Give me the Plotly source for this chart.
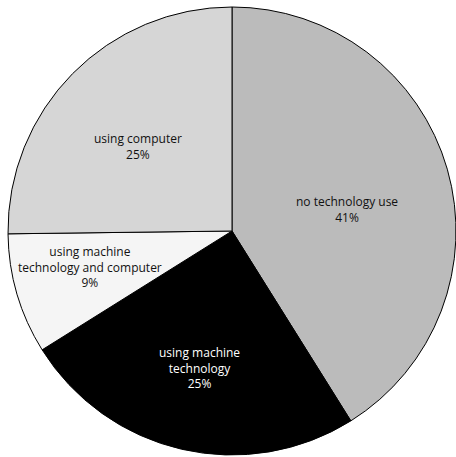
import plotly.graph_objects as go

categories = ["no technology use", "using machine technology",
              "using machine technology and computer", "using computer"]
display_labels = ["no technology use", "using machine<br>technology",
                  "using machine<br>technology and computer", "using computer"]
values = [41.1, 25.0, 8.7, 25.2]
colors = ["#bbbbbb", "#000000", "#f5f5f5", "#d6d6d6"]
text_colors = ["#111111", "#ffffff", "#111111", "#111111"]
# label anchor points (paper fraction) for each slice's text
label_x = [0.7556, 0.4275, 0.1830, 0.2891]
label_y = [0.5469, 0.1942, 0.4196, 0.6886]

FONT = "Open Sans, Noto Sans, sans-serif"
total = sum(values)

fig = go.Figure(go.Pie(
    labels=categories,
    values=values,
    textinfo="none",
    sort=False,
    direction="clockwise",
    rotation=0,
    marker=dict(colors=colors, line=dict(color="#000000", width=1)),
    hoverinfo="label+percent",
    showlegend=False,
))

for i in range(len(values)):
    fig.add_annotation(
        x=label_x[i], y=label_y[i], xref="paper", yref="paper",
        xanchor="center", yanchor="middle",
        text=f"{display_labels[i]}<br>{round(values[i] / total * 100)}%",
        showarrow=False,
        font=dict(family=FONT, size=12, color=text_colors[i]),
        align="center",
    )

fig.update_layout(
    width=456, height=457,
    margin=dict(l=8, r=0, t=7, b=2),
    paper_bgcolor="white",
    plot_bgcolor="white",
)

fig.write_html("out.html", config={"displayModeBar": False},
               post_script="document.body.style.margin='0';")
